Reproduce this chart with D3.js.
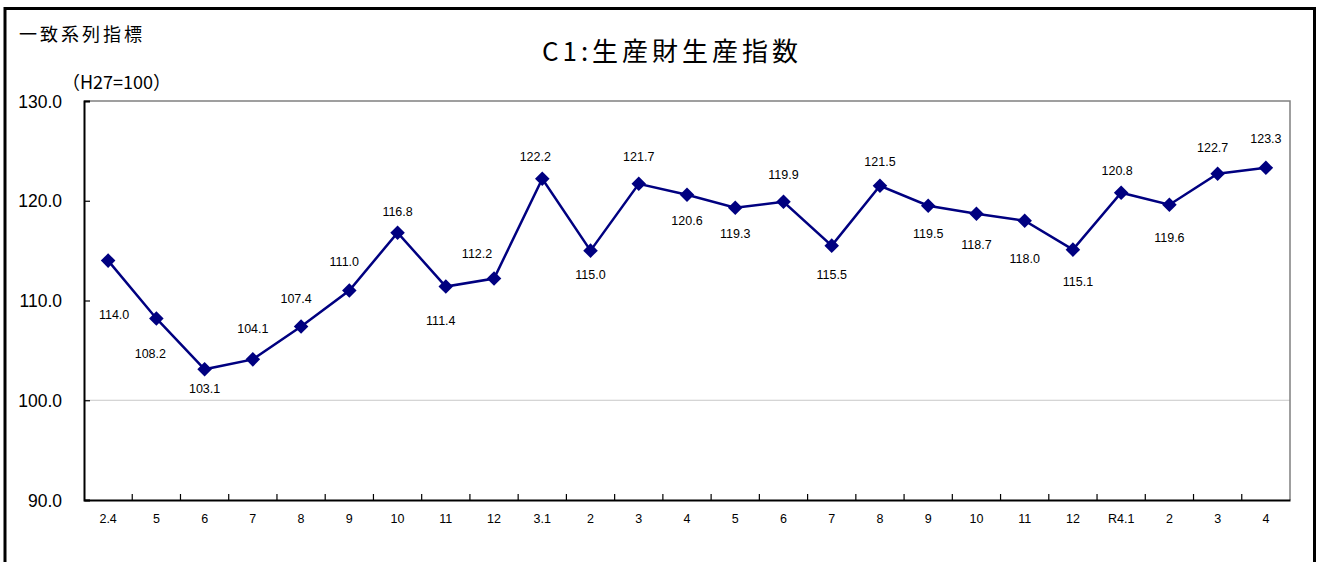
<!DOCTYPE html>
<html><head><meta charset="utf-8">
<script src="https://cdn.jsdelivr.net/npm/d3@7"></script>
<style>
html,body{margin:0;padding:0;background:#fff;}
svg{display:block;font-family:"Liberation Sans","Noto Sans CJK JP",sans-serif;}
.jp{font-family:"Noto Sans CJK JP",sans-serif;}
</style></head>
<body>
<script>
const categories = ["2.4","5","6","7","8","9","10","11","12","3.1","2","3","4","5","6","7","8","9","10","11","12","R4.1","2","3","4"];
const values = [114.0,108.2,103.1,104.1,107.4,111.0,116.8,111.4,112.2,122.2,115.0,121.7,120.6,119.3,119.9,115.5,121.5,119.5,118.7,118.0,115.1,120.8,119.6,122.7,123.3];
const yTicks = [90,100,110,120,130];
const gridValues = [100];
const title = "C1:生産財生産指数";
const seriesGroup = "一致系列指標";
const unitLabel = "（H27=100）";
// label placement: vertical offset (px) and horizontal nudge relative to the point
const labelDy = [54,35,19,-31,-28,-29,-21,34,-25,-22,24,-27,26,26,-27,29,-24,28,31,38,32,-22,33,-26,-29];
const labelDx = [6,-6,0,0,-5,-5,0,-5,-17,-7,0,0,0,0,0,0,0,0,0,0,5,-4,0,-5,0];

const W = 1318, H = 562;
const svg = d3.select("body").append("svg").attr("width", W).attr("height", H);

// outer frame (bottom cut off)
svg.append("path").attr("d", `M5,${H+5} L5,8.5 L1314.5,8.5 L1314.5,${H+5}`)
  .attr("fill","none").attr("stroke","#000").attr("stroke-width",3);

const L = 84, R = 1290, T = 101, B = 500;
const x = d3.scaleBand().domain(d3.range(categories.length)).range([L, R]);
const y = d3.scaleLinear().domain([90,130]).range([B, T]);

// gridline
svg.append("g").selectAll("line").data(gridValues).join("line")
  .attr("x1", L).attr("x2", R).attr("y1", d=>y(d)).attr("y2", d=>y(d))
  .attr("stroke","#c8c8c8").attr("stroke-width",1);

// top and right frame
svg.append("path").attr("d", `M${L},${T} L${R},${T} L${R},${B}`)
  .attr("fill","none").attr("stroke","#808080").attr("stroke-width",1.5);

// y axis
const yAxis = d3.axisLeft(y).tickValues(yTicks).tickSize(-6).tickPadding(0).tickFormat(d3.format(".1f"));
const gy = svg.append("g").attr("transform",`translate(${L},0)`).call(yAxis);
gy.select(".domain").attr("stroke","#000").attr("stroke-width",2);
gy.selectAll(".tick line").attr("stroke","#000").attr("stroke-width",1.2);
gy.selectAll(".tick text").attr("x",-22).attr("dy","0.35em").attr("font-size",17.5).attr("fill","#000");

// x axis
const xAxis = d3.axisBottom(x).tickSize(0).tickFormat(i=>categories[i]);
const gx = svg.append("g").attr("transform",`translate(0,${B})`).call(xAxis);
gx.select(".domain").attr("stroke","#000").attr("stroke-width",2);
gx.selectAll(".tick text").attr("y",19).attr("dy","0.35em").attr("font-size",12.5).attr("fill","#000");
// boundary tick marks (inward)
gx.append("g").selectAll("line").data(d3.range(1, categories.length)).join("line")
  .attr("x1", i=>x(i)).attr("x2", i=>x(i)).attr("y1",0).attr("y2",-6)
  .attr("stroke","#000").attr("stroke-width",1.2);

// line
const cx = i => x(i) + x.bandwidth()/2;
svg.append("path").datum(values)
  .attr("d", d3.line().x((d,i)=>cx(i)).y(d=>y(d)))
  .attr("fill","none").attr("stroke","#000080").attr("stroke-width",2.5);

// markers
svg.append("g").selectAll("path").data(values).join("path")
  .attr("d", d3.symbol(d3.symbolDiamond2, 135))
  .attr("transform",(d,i)=>`translate(${cx(i)},${y(d)})`)
  .attr("fill","#000080");

// data labels
svg.append("g").selectAll("text").data(values).join("text")
  .attr("x",(d,i)=>cx(i)+labelDx[i]).attr("y",(d,i)=>y(d)+labelDy[i])
  .attr("dy","0.35em").attr("text-anchor","middle").attr("font-size",12.5).attr("fill","#000")
  .text(d=>d.toFixed(1));

// texts
svg.append("text").attr("class","jp").attr("x",672).attr("y",52).attr("dy","0.35em")
  .attr("text-anchor","middle").attr("font-size",26).attr("letter-spacing",4).attr("fill","#000").text(title);
svg.append("text").attr("class","jp").attr("x",19).attr("y",35).attr("dy","0.35em")
  .attr("font-size",18).attr("letter-spacing",3).attr("fill","#000").text(seriesGroup);
svg.append("text").attr("class","jp").attr("x",62).attr("y",83).attr("dy","0.35em")
  .attr("font-size",18).attr("fill","#000").text(unitLabel);
</script>
</body></html>
